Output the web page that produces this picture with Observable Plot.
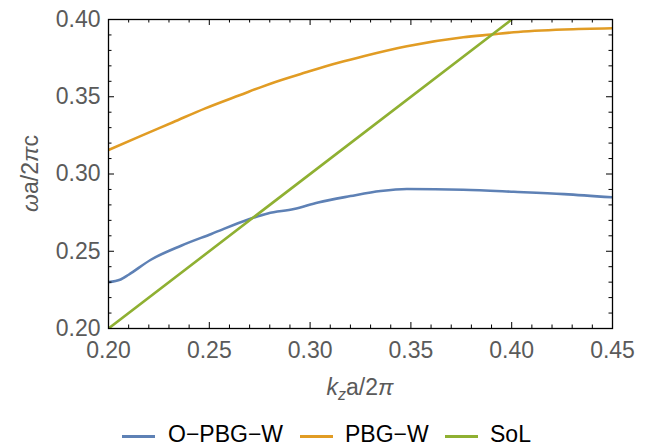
<!DOCTYPE html>
<html>
<head>
<meta charset="utf-8">
<script src="https://cdn.jsdelivr.net/npm/d3@7"></script>
<script src="https://cdn.jsdelivr.net/npm/@observablehq/plot@0.6"></script>
<style>
  html, body { margin: 0; padding: 0; background: #fff; }
  body { width: 647px; height: 447px; overflow: hidden; font-family: "Liberation Sans", Arial, sans-serif; }
  #legend { position: relative; width: 647px; height: 37px; }
  #legend .sw { position: absolute; top: 25px; height: 3px; width: 33px; }
  #legend .lab { position: absolute; top: 12px; font-size: 23px; line-height: 24px; color: #000; white-space: nowrap; }
</style>
</head>
<body>
<div id="chart"></div>
<div id="legend"></div>
<script>
// --- data ---
const seriesNames = ["O\u2212PBG\u2212W", "PBG\u2212W", "SoL"];
const seriesColors = ["#5E81B5", "#E19C24", "#8FB032"];

const kBlue = [0.200, 0.206, 0.210, 0.221, 0.236, 0.251, 0.270, 0.279, 0.292, 0.304, 0.320, 0.335, 0.348, 0.376, 0.401, 0.426, 0.450];
const wBlue = [0.2300, 0.2317, 0.2348, 0.2445, 0.2536, 0.2612, 0.2709, 0.2745, 0.2773, 0.2816, 0.2857, 0.2890, 0.2903, 0.2898, 0.2885, 0.2870, 0.2849];

const kOrange = [0.200, 0.215, 0.232, 0.248, 0.265, 0.281, 0.298, 0.314, 0.327, 0.348, 0.376, 0.390, 0.401, 0.426, 0.450];
const wOrange = [0.3155, 0.3240, 0.3335, 0.3425, 0.3510, 0.3588, 0.3658, 0.3720, 0.3764, 0.3827, 0.3885, 0.3903, 0.3917, 0.3935, 0.3943];

const kGreen = [0.20, 0.40];
const wGreen = [0.20, 0.40];

const xMajor = [0.20, 0.25, 0.30, 0.35, 0.40, 0.45];
const xMinor = [0.21, 0.22, 0.23, 0.24, 0.26, 0.27, 0.28, 0.29, 0.31, 0.32, 0.33, 0.34, 0.36, 0.37, 0.38, 0.39, 0.41, 0.42, 0.43, 0.44];
const yMajor = [0.20, 0.25, 0.30, 0.35, 0.40];
const yMinor = [0.21, 0.22, 0.23, 0.24, 0.26, 0.27, 0.28, 0.29, 0.31, 0.32, 0.33, 0.34, 0.36, 0.37, 0.38, 0.39];

// --- build ---
const W = 647, H = 410;
const mL = 108, mR = 35, mT = 19, mB = 82;
const pw = W - mL - mR, ph = H - mT - mB;

const toRows = (ks, ws, s) => ks.map((k, i) => ({k, w: ws[i], s}));
const rows = [
  ...toRows(kBlue, wBlue, seriesNames[0]),
  ...toRows(kOrange, wOrange, seriesNames[1]),
  ...toRows(kGreen, wGreen, seriesNames[2])
];

const majLen = 6, minLen = 3.5;
const tickStyle = {stroke: "#000", strokeWidth: 1};

const plot = Plot.plot({
  width: W, height: H,
  marginLeft: mL, marginRight: mR, marginTop: mT, marginBottom: mB,
  style: {fontFamily: "'Liberation Sans', Arial, sans-serif", fontSize: "23px", color: "#555", background: "#fff", overflow: "visible"},
  x: {domain: [0.2, 0.45]},
  y: {domain: [0.2, 0.4]},
  color: {domain: seriesNames, range: seriesColors},
  marks: [
    Plot.line(rows, {x: "k", y: "w", z: "s", stroke: "s", strokeWidth: 2.6, curve: "monotone-x", clip: true}),
    // bottom ticks (inward)
    Plot.tickX(xMajor, {x: d => d, insetTop: ph - majLen, ...tickStyle}),
    Plot.tickX(xMinor, {x: d => d, insetTop: ph - minLen, ...tickStyle}),
    // top ticks
    Plot.tickX(xMajor, {x: d => d, insetBottom: ph - majLen, ...tickStyle}),
    Plot.tickX(xMinor, {x: d => d, insetBottom: ph - minLen, ...tickStyle}),
    // left ticks
    Plot.tickY(yMajor, {y: d => d, insetRight: pw - majLen, ...tickStyle}),
    Plot.tickY(yMinor, {y: d => d, insetRight: pw - minLen, ...tickStyle}),
    // right ticks
    Plot.tickY(yMajor, {y: d => d, insetLeft: pw - majLen, ...tickStyle}),
    Plot.tickY(yMinor, {y: d => d, insetLeft: pw - minLen, ...tickStyle}),
    Plot.frame({stroke: "#000", strokeWidth: 1.3}),
    Plot.axisX({ticks: xMajor, tickSize: 0, tickPadding: 13, tickFormat: d3.format(".2f"), label: null, fill: "#5a5a5a"}),
    Plot.axisY({ticks: yMajor, tickSize: 0, tickPadding: 8, tickFormat: d3.format(".2f"), label: null, fill: "#5a5a5a"})
  ]
});
document.getElementById("chart").appendChild(plot);

// axis titles
const svg = d3.select(plot);
const xt = svg.append("text")
  .attr("x", mL + pw / 2).attr("y", 395)
  .attr("text-anchor", "middle")
  .attr("fill", "#5a5a5a").attr("font-size", 23);
xt.append("tspan").attr("font-style", "italic").text("k");
xt.append("tspan").attr("font-style", "italic").attr("font-size", 16).attr("dy", 5).text("z");
xt.append("tspan").attr("dy", -5).text("a/2");
xt.append("tspan").attr("font-style", "italic").text("\u03C0");

const yt = svg.append("text")
  .attr("transform", `translate(38,${mT + ph / 2}) rotate(-90)`)
  .attr("text-anchor", "middle")
  .attr("fill", "#5a5a5a").attr("font-size", 23);
yt.append("tspan").attr("font-style", "italic").text("\u03C9");
yt.append("tspan").text("a/2");
yt.append("tspan").attr("font-style", "italic").text("\u03C0");
yt.append("tspan").text("c");

// legend
const legendPos = [[122, 168], [300, 345], [445, 490]];
const leg = document.getElementById("legend");
seriesNames.forEach((name, i) => {
  const sw = document.createElement("div");
  sw.className = "sw";
  sw.style.left = legendPos[i][0] + "px";
  sw.style.background = seriesColors[i];
  leg.appendChild(sw);
  const lab = document.createElement("div");
  lab.className = "lab";
  lab.style.left = legendPos[i][1] + "px";
  lab.textContent = name;
  leg.appendChild(lab);
});
</script>
</body>
</html>
